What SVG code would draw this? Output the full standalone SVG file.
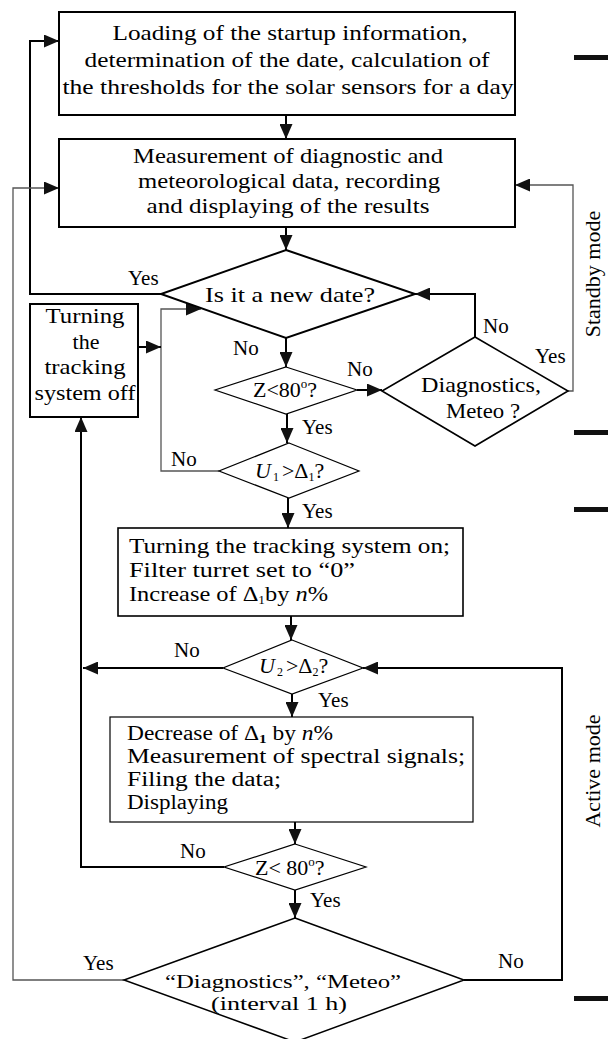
<svg xmlns="http://www.w3.org/2000/svg" width="608" height="1039" viewBox="0 0 608 1039">
<style>
.bx{fill:#fff;stroke:#000;stroke-width:2}
.bt{fill:#fff;stroke:#000;stroke-width:1.2}
.t{font-family:"Liberation Serif","Times New Roman",serif;font-size:22px;fill:#000}
.s{font-size:20px}
.l{font-family:"Liberation Serif","Times New Roman",serif;font-size:21px;fill:#000}
.c{text-anchor:middle}
.k{fill:none;stroke:#000;stroke-width:2}
.g{fill:none;stroke:#555;stroke-width:1.3}
.bar{fill:#111}
</style>
<defs>
<marker id="ah" viewBox="0 0 15 13" refX="15" refY="6.5" markerWidth="15" markerHeight="13" markerUnits="userSpaceOnUse" orient="auto">
<path d="M0,0 L15,6.5 L0,13 z" fill="#111"/>
</marker>
</defs>

<g id="connectors">
<path class="k" d="M286,115 V139" marker-end="url(#ah)"/>
<path class="k" d="M161,294 H30 V41 H59" marker-end="url(#ah)"/>
<path class="g" d="M124,980 H13 V188 H59" marker-end="url(#ah)"/>
<path class="g" d="M568,391 H573 V185 H515" marker-end="url(#ah)"/>
<path class="k" d="M286,227 V250" marker-end="url(#ah)"/>
<path class="k" d="M475,337 V294 H415" marker-end="url(#ah)"/>
<path class="k" d="M286,338 V367" marker-end="url(#ah)"/>
<path class="k" d="M357,390 H382" marker-end="url(#ah)"/>
<path class="k" d="M287,414 V443" marker-end="url(#ah)"/>
<path class="g" d="M219,471 H161 V309 H201" marker-end="url(#ah)"/>
<path class="k" d="M138,347 H161" marker-end="url(#ah)"/>
<path class="k" d="M288,498 V528" marker-end="url(#ah)"/>
<path class="k" d="M291,616 V640" marker-end="url(#ah)"/>
<path class="k" d="M223,668 H83" marker-end="url(#ah)"/>
<path class="k" d="M464,980 H562 V668 H363" marker-end="url(#ah)"/>
<path class="k" d="M292,694 V717" marker-end="url(#ah)"/>
<path class="k" d="M295,822 V844" marker-end="url(#ah)"/>
<path class="k" d="M224,867 H81 V417" marker-end="url(#ah)"/>
<path class="k" d="M295,890 V918" marker-end="url(#ah)"/>
</g>

<g id="labels">
<text class="l" x="128" y="285">Yes</text>
<text class="l" x="483" y="333">No</text>
<text class="l" x="535" y="363">Yes</text>
<text class="l" x="233" y="355">No</text>
<text class="l" x="347" y="376">No</text>
<text class="l" x="302" y="434">Yes</text>
<text class="l" x="171" y="466">No</text>
<text class="l" x="302" y="518">Yes</text>
<text class="l" x="174" y="657">No</text>
<text class="l" x="318" y="707">Yes</text>
<text class="l" x="180" y="858">No</text>
<text class="l" x="310" y="907">Yes</text>
<text class="l" x="83" y="970">Yes</text>
<text class="l" x="498" y="968">No</text>
</g>

<g id="n-load">
<rect class="bx" x="59" y="12" width="456" height="103"/>
<text class="t c" x="290" y="40" textLength="355" lengthAdjust="spacingAndGlyphs">Loading of the startup information,</text>
<text class="t c" x="287" y="67" textLength="405" lengthAdjust="spacingAndGlyphs">determination of the date, calculation of</text>
<text class="t c" x="288" y="94" textLength="451" lengthAdjust="spacingAndGlyphs">the thresholds for the solar sensors for a day</text>
</g>

<g id="n-measure">
<rect class="bx" x="59" y="139" width="456" height="88"/>
<text class="t c" x="288" y="163" textLength="310" lengthAdjust="spacingAndGlyphs">Measurement of diagnostic and</text>
<text class="t c" x="289" y="188" textLength="302" lengthAdjust="spacingAndGlyphs">meteorological data, recording</text>
<text class="t c" x="288" y="213" textLength="283" lengthAdjust="spacingAndGlyphs">and displaying of the results</text>
</g>

<g id="n-newdate">
<polygon class="bx" points="286,250 415,294 286,338 161,294"/>
<text class="t c" x="290" y="302" textLength="170" lengthAdjust="spacingAndGlyphs">Is it a new date?</text>
</g>

<g id="n-diag">
<polygon class="bx" points="475,337 568,391 475,446 382,391" style="stroke-width:1.6"/>
<text class="t c" x="481" y="392" textLength="120" lengthAdjust="spacingAndGlyphs">Diagnostics,</text>
<text class="t c" x="483" y="418" textLength="74" lengthAdjust="spacingAndGlyphs">Meteo ?</text>
</g>

<g id="n-off">
<rect class="bx" x="30" y="304" width="108" height="113"/>
<text class="t c" x="85" y="323" textLength="79" lengthAdjust="spacingAndGlyphs">Turning</text>
<text class="t c" x="86" y="349">the</text>
<text class="t c" x="85" y="374" textLength="81" lengthAdjust="spacingAndGlyphs">tracking</text>
<text class="t c" x="85" y="400" textLength="101" lengthAdjust="spacingAndGlyphs">system off</text>
</g>

<g id="n-z1">
<polygon class="bt" points="286,367 357,390 286,414 215,390"/>
<text class="t" x="253" y="397">Z&lt;80<tspan font-size="13" dy="-9">o</tspan><tspan dy="9">?</tspan></text>
</g>

<g id="n-u1">
<polygon class="bt" points="289,443 359,471 289,498 219,471"/>
<text class="t" x="255" y="478"><tspan font-style="italic">U</tspan><tspan font-size="12" dy="3" dx="2">1</tspan><tspan dy="-3" dx="3">&gt;Δ</tspan><tspan font-size="12" dy="3">1</tspan><tspan dy="-3">?</tspan></text>
</g>

<g id="n-on">
<rect class="bx" x="118" y="528" width="345" height="88" style="stroke-width:1.6"/>
<text class="t" x="129" y="553" textLength="321" lengthAdjust="spacingAndGlyphs">Turning the tracking system on;</text>
<text class="t" x="129" y="577" textLength="226" lengthAdjust="spacingAndGlyphs">Filter turret set to “0”</text>
<text class="t" x="129" y="601" textLength="199" lengthAdjust="spacingAndGlyphs">Increase of Δ<tspan font-size="12" dy="3">1</tspan><tspan dy="-3">by </tspan><tspan font-style="italic">n</tspan>%</text>
</g>

<g id="n-u2">
<polygon class="bt" points="292,640 363,668 292,694 223,668"/>
<text class="t" x="259" y="673"><tspan font-style="italic">U</tspan><tspan font-size="12" dy="3" dx="2">2</tspan><tspan dy="-3" dx="3">&gt;Δ</tspan><tspan font-size="12" dy="3">2</tspan><tspan dy="-3">?</tspan></text>
</g>

<g id="n-meas2">
<rect class="bt" x="110" y="717" width="363" height="105"/>
<text class="t s" x="127" y="740" textLength="206" lengthAdjust="spacingAndGlyphs">Decrease of Δ<tspan font-size="13" font-weight="bold" dy="3">1</tspan><tspan dy="-3"> by </tspan><tspan font-style="italic">n</tspan>%</text>
<text class="t s" x="127" y="763" textLength="338" lengthAdjust="spacingAndGlyphs">Measurement of spectral signals;</text>
<text class="t s" x="127" y="786" textLength="154" lengthAdjust="spacingAndGlyphs">Filing the data;</text>
<text class="t s" x="127" y="809" textLength="101" lengthAdjust="spacingAndGlyphs">Displaying</text>
</g>

<g id="n-z2">
<polygon class="bt" points="295,844 366,867 295,890 224,867"/>
<text class="t" x="255" y="875">Z&lt; 80<tspan font-size="13" dy="-9">o</tspan><tspan dy="9">?</tspan></text>
</g>

<g id="n-interval">
<polygon class="bx" points="295,918 464,980 295,1042 124,980" style="stroke-width:1.5"/>
<text class="t c" x="283" y="988" style="font-size:19px" textLength="236" lengthAdjust="spacingAndGlyphs">“Diagnostics”, “Meteo”</text>
<text class="t c" x="279" y="1010" style="font-size:19px" textLength="136" lengthAdjust="spacingAndGlyphs">(interval 1 h)</text>
</g>

<g id="modes">
<rect class="bar" x="574" y="55" width="34" height="5"/>
<rect class="bar" x="574" y="430" width="34" height="5"/>
<rect class="bar" x="574" y="507" width="34" height="5"/>
<rect class="bar" x="574" y="996" width="34" height="5"/>
<text class="t c" transform="translate(600,274) rotate(-90)">Standby mode</text>
<text class="t c" transform="translate(600,771) rotate(-90)">Active mode</text>
</g>
</svg>
